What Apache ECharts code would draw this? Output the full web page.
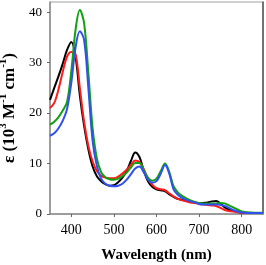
<!DOCTYPE html>
<html>
<head>
<meta charset="utf-8">
<script src="https://cdn.jsdelivr.net/npm/echarts@6/dist/echarts.min.js"></script>
<style>html,body{margin:0;padding:0;background:#fff;}#c{width:266px;height:265px;}</style>
</head>
<body>
<div id="c"></div>
<script>
var wavelength = [350,360,370,380,390,400,410,420,430,440,450,460,470,480,490,500,510,520,530,540,550,560,570,580,590,600,610,620,630,640,650,660,670,680,690,700,710,720,730,740,750,760,770,780,790,800,810,820,830,840,850];
var blackSeries = [22.6,25.0,27.3,29.8,32.5,34.1,31.2,23.5,17.5,12.8,9.4,7.5,6.5,5.9,5.6,5.7,6.3,7.2,8.5,10.5,12.2,11.3,8.6,6.5,5.4,4.9,4.7,4.5,3.9,3.4,3.0,2.8,2.6,2.4,2.3,2.1,2.2,2.3,2.5,2.6,2.1,1.3,0.9,0.7,0.45,0.3,0.25,0.2,0.2,0.2,0.2];
var redSeries = [21.0,22.0,24.7,28.2,31.2,32.1,31.6,25.0,18.3,13.5,10.4,8.5,7.6,7.2,7.1,7.1,7.4,8.0,8.8,9.7,10.6,10.3,8.9,7.0,5.8,5.1,4.9,4.7,4.1,3.5,3.0,2.7,2.5,2.3,2.2,2.0,1.9,1.8,1.7,1.6,1.2,0.8,0.6,0.5,0.35,0.25,0.2,0.2,0.2,0.2,0.2];
var greenSeries = [17.7,18.3,19.2,20.5,22.2,28.3,36.5,40.4,37.8,28.0,17.0,11.0,8.3,7.3,6.9,6.8,7.0,7.5,8.2,9.2,10.1,10.1,8.7,7.2,6.6,7.0,8.5,10.0,8.3,5.5,4.3,3.6,3.1,2.7,2.4,2.2,2.1,2.1,2.1,2.1,2.2,2.1,1.7,1.3,0.9,0.5,0.35,0.3,0.25,0.25,0.25];
var blueSeries = [15.5,16.0,17.0,18.5,20.8,26.0,33.0,36.2,34.5,25.0,14.5,9.5,7.0,6.0,5.6,5.5,5.6,6.0,6.8,7.9,9.0,9.4,8.3,6.8,6.2,6.5,8.0,9.7,8.0,4.9,3.8,3.2,2.8,2.5,2.3,2.0,1.9,1.9,1.9,1.9,1.8,1.6,1.2,0.8,0.5,0.3,0.2,0.2,0.2,0.2,0.2];
var xTicks = [400,500,600,700,800];
var yTicks = [0,10,20,30,40];

function pairs(arr){ return wavelength.map(function(w,i){ return [w, arr[i]]; }); }
function mk(name, arr, color){
  return {name:name, type:'line', data:pairs(arr), smooth:0.35, showSymbol:false,
    lineStyle:{color:color, width:2}, itemStyle:{color:color}, z:3, animation:false};
}
var chart = echarts.init(document.getElementById('c'), null, {renderer:'canvas'});
var serif = 'Liberation Serif, Times New Roman, serif';
chart.setOption({
  animation:false,
  grid:{left:50, top:2, right:3, bottom:51, show:true, borderColor:'#a0a0a0', borderWidth:1, outerBoundsMode:'none', containLabel:false},
  xAxis:[{type:'value', min:350, max:850,
    axisLine:{show:true, lineStyle:{color:'#8c8c8c', width:1.5}},
    axisTick:{show:true, length:3, lineStyle:{color:'#666'}, customValues:xTicks},
    axisLabel:{color:'#000', fontFamily:serif, fontSize:14, margin:9, customValues:xTicks},
    splitLine:{show:false},
    name:'Wavelength (nm)', nameLocation:'middle', nameGap:34,
    nameTextStyle:{color:'#000', fontFamily:serif, fontSize:15, fontWeight:'bold'}
  }],
  yAxis:[{type:'value', min:0, max:42,
    axisLine:{show:true, lineStyle:{color:'#8c8c8c', width:1.5}},
    axisTick:{show:true, length:3, lineStyle:{color:'#666'}, customValues:yTicks},
    axisLabel:{color:'#000', fontFamily:serif, fontSize:13, margin:8, customValues:yTicks},
    splitLine:{show:false},
    name:'{n|ε (10}{s|3}{n| M}{s|-1}{n| cm}{s|-1}{n|)}', nameLocation:'middle', nameGap:26,
    nameTextStyle:{color:'#000', fontFamily:serif, fontSize:17, fontWeight:'bold',
      rich:{n:{fontFamily:serif, fontSize:17, fontWeight:'bold', color:'#000', lineHeight:20, verticalAlign:'bottom'},
            s:{fontFamily:serif, fontSize:11, fontWeight:'bold', color:'#000', lineHeight:20, verticalAlign:'top'}}}
  },{type:'value', min:0, max:42, position:'right',
    axisLine:{show:true, lineStyle:{color:'#555', width:1.5}},
    axisTick:{show:false}, axisLabel:{show:false}, splitLine:{show:false}
  }],
  series:[mk('black', blackSeries, '#000000'), mk('red', redSeries, '#ff1a1a'), mk('green', greenSeries, '#12a012'), mk('blue', blueSeries, '#3050f0')]
});
</script>
</body>
</html>
